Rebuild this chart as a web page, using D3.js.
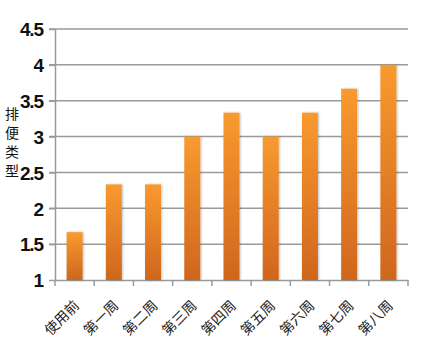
<!DOCTYPE html>
<html>
<head>
<meta charset="utf-8">
<script src="https://cdn.jsdelivr.net/npm/d3@7"></script>
<style>
  body { margin: 0; background: #fff; }
</style>
</head>
<body>
<svg id="chart" width="421" height="357"></svg>
<script>
// chart data
var categories = ['使用前', '第一周', '第二周', '第三周', '第四周', '第五周', '第六周', '第七周', '第八周']
var values = [1.667, 2.333, 2.333, 3, 3.333, 3, 3.333, 3.667, 4]
var yTicks = [1, 1.5, 2, 2.5, 3, 3.5, 4, 4.5]
var yTitle = '排便类型'

var svg = d3.select('#chart')
var plotLeft = 55, plotRight = 408, plotTop = 29, plotBottom = 280

var x = d3.scaleBand().domain(categories).range([plotLeft, plotRight])
var y = d3.scaleLinear().domain([1, 4.5]).range([plotBottom, plotTop])

var defs = svg.append('defs')
var grad = defs.append('linearGradient')
    .attr('id', 'barGrad')
    .attr('x1', 0).attr('y1', 0).attr('x2', 0).attr('y2', 1)
grad.append('stop').attr('offset', '0%').attr('stop-color', '#f99a2e')
grad.append('stop').attr('offset', '100%').attr('stop-color', '#cf661e')

var blur = defs.append('filter').attr('id', 'shadow')
    .attr('x', '-30%').attr('y', '-10%').attr('width', '160%').attr('height', '120%')
blur.append('feGaussianBlur').attr('in', 'SourceAlpha').attr('stdDeviation', 1.2).attr('result', 'b')
blur.append('feOffset').attr('in', 'b').attr('dx', 1).attr('dy', 0).attr('result', 'o')
blur.append('feComponentTransfer').attr('in', 'o').attr('result', 'o2')
    .append('feFuncA').attr('type', 'linear').attr('slope', 0.25)
var merge = blur.append('feMerge')
merge.append('feMergeNode').attr('in', 'o2')
merge.append('feMergeNode').attr('in', 'SourceGraphic')

// gridlines
svg.append('g')
    .selectAll('line')
    .data(yTicks.slice(1))
    .enter().append('line')
    .attr('x1', plotLeft - 6).attr('x2', plotRight)
    .attr('y1', function(d){ return y(d) }).attr('y2', function(d){ return y(d) })
    .attr('stroke', '#9a9a9a').attr('stroke-width', 1.5)

// y axis
var yAxis = svg.append('g')
    .attr('transform', 'translate(' + plotLeft + ',0)')
    .call(d3.axisLeft(y).tickValues(yTicks).tickFormat(d3.format('')).tickSize(6).tickSizeOuter(0).tickPadding(5))
yAxis.select('.domain').attr('stroke', '#9a9a9a').attr('stroke-width', 1.5)
yAxis.selectAll('.tick line').attr('stroke', '#9a9a9a').attr('stroke-width', 1.5)
yAxis.selectAll('.tick text')
    .attr('font-family', 'Liberation Sans, Arial, sans-serif')
    .attr('font-weight', 'bold')
    .attr('font-size', 19)
    .attr('fill', '#111')
    .attr('textLength', function(d){ return String(d).length > 1 ? 24 : null })
    .attr('dy', '0.36em')

// x axis
var xAxis = svg.append('g')
    .attr('transform', 'translate(0,' + plotBottom + ')')
    .call(d3.axisBottom(x).tickSize(0).tickSizeOuter(0).tickFormat(''))
xAxis.select('.domain').attr('stroke', '#9a9a9a').attr('stroke-width', 1.5)

// category boundary ticks
var bounds = categories.map(function(c){ return x(c) }).concat([plotRight])
svg.append('g').selectAll('line')
    .data(bounds)
    .enter().append('line')
    .attr('x1', function(d){ return d }).attr('x2', function(d){ return d })
    .attr('y1', plotBottom).attr('y2', plotBottom + 6)
    .attr('stroke', '#9a9a9a').attr('stroke-width', 1.5)

// bars
var barW = 16
svg.append('g').selectAll('rect')
    .data(values)
    .enter().append('rect')
    .attr('x', function(d, i){ return x(categories[i]) + x.bandwidth() / 2 - barW / 2 })
    .attr('y', function(d){ return y(d) })
    .attr('width', barW)
    .attr('height', function(d){ return plotBottom - y(d) })
    .attr('fill', 'url(#barGrad)')
    .attr('filter', 'url(#shadow)')

// x labels
svg.append('g').selectAll('text')
    .data(categories)
    .enter().append('text')
    .attr('transform', function(d){
        return 'translate(' + (x(d) + x.bandwidth() / 2 + 2) + ',' + (plotBottom + 23) + ') rotate(-45)'
    })
    .attr('text-anchor', 'end')
    .attr('dy', '0.35em')
    .attr('font-family', '"Noto Sans CJK SC", sans-serif')
    .attr('font-size', 14)
    .attr('fill', '#222')
    .text(function(d){ return d })

// y title, stacked characters
svg.append('g').selectAll('text')
    .data(yTitle.split(''))
    .enter().append('text')
    .attr('x', 12)
    .attr('y', function(d, i){ return 119 + i * 19 })
    .attr('text-anchor', 'middle')
    .attr('font-family', '"Noto Sans CJK SC", sans-serif')
    .attr('font-size', 14)
    .attr('fill', '#111')
    .text(function(d){ return d })
</script>
</body>
</html>
